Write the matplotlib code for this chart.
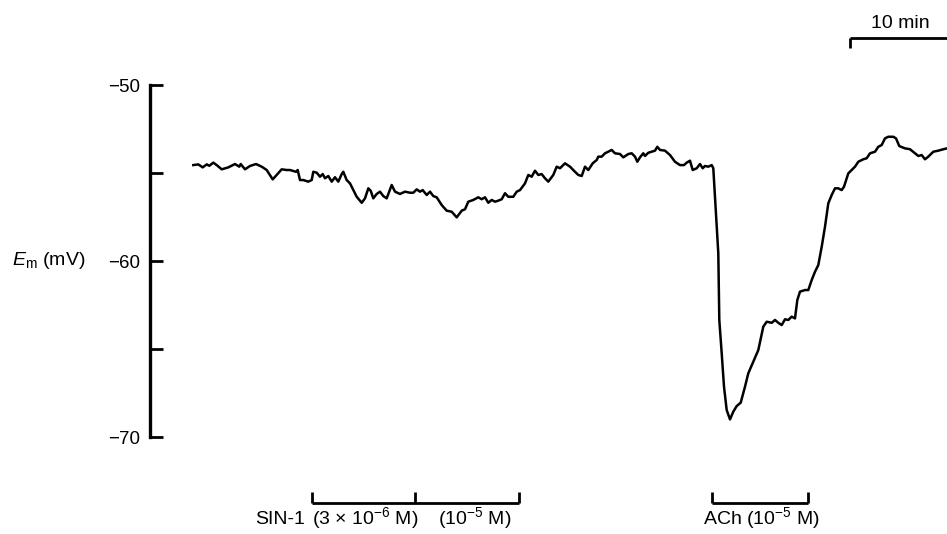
import matplotlib
matplotlib.use("Agg")
import matplotlib.pyplot as plt

plt.rcParams['font.family'] = ['Liberation Sans', 'DejaVu Sans']
plt.rcParams['mathtext.fontset'] = 'custom'
plt.rcParams['mathtext.rm'] = 'Liberation Sans'
plt.rcParams['mathtext.it'] = 'Liberation Sans:italic'

# time (min) and membrane potential (mV)
time_min = [4.33, 4.83, 5.27, 5.67, 5.93, 6.33, 6.67, 7.17, 7.83, 8.5, 8.93, 9.07, 9.5, 10.0,
            10.6, 11.17, 11.67, 12.27, 12.67, 13.17, 13.67, 14.0, 14.6, 14.77, 15.0, 15.33,
            15.83, 16.17, 16.33, 16.67, 17.0, 17.27, 17.5, 17.83, 18.17, 18.5, 18.83, 19.17,
            19.33, 19.67, 20.0, 20.33, 20.67, 21.17, 21.5, 21.83, 22.07, 22.33, 22.67, 23.0,
            23.33, 23.67, 24.17, 24.5, 25.0, 25.5, 26.0, 26.33, 26.67, 27.0, 27.27, 27.67,
            28.0, 28.33, 28.67, 29.17, 29.67, 30.17, 30.67, 31.17, 31.5, 31.83, 32.33, 32.83,
            33.17, 33.5, 33.83, 34.17, 34.5, 34.83, 35.17, 35.5, 35.83, 36.33, 36.67, 37.0,
            37.5, 37.83, 38.17, 38.5, 38.83, 39.17, 39.5, 39.83, 40.33, 40.67, 41.0, 41.5,
            42.0, 42.5, 42.83, 43.17, 43.5, 43.83, 44.27, 44.67, 44.83, 45.17, 45.5, 46.17,
            46.5, 47.0, 47.33, 47.83, 48.17, 48.5, 48.73, 49.0, 49.33, 49.5, 49.83, 50.17,
            50.5, 50.73, 51.0, 51.5, 52.0, 52.5, 53.0, 53.4, 53.67, 54.0, 54.27, 54.67, 55.0,
            55.27, 55.5, 55.83, 56.17, 56.33, 56.6, 56.83, 56.93, 57.17, 57.4, 57.67, 58.0,
            58.33, 58.67, 59.07, 59.5, 59.83, 60.33, 60.83, 61.33, 61.67, 62.17, 62.5, 62.83,
            63.17, 63.5, 63.83, 64.17, 64.5, 64.73, 65.0, 65.5, 65.83, 66.17, 66.5, 66.83,
            67.17, 67.5, 67.83, 68.17, 68.5, 68.83, 69.17, 69.4, 69.83, 70.17, 70.5, 70.83,
            71.33, 71.67, 72.0, 72.5, 72.83, 73.17, 73.5, 73.83, 74.33, 74.6, 74.93, 75.5,
            76.0, 76.5, 76.83, 77.17, 77.5, 77.83, 78.33, 78.83, 79.33, 79.7]
em_mv = [-54.55, -54.51, -54.68, -54.51, -54.59, -54.41, -54.55, -54.79, -54.68, -54.49, -54.64,
         -54.49, -54.79, -54.60, -54.49, -54.64, -54.83, -55.36, -55.11, -54.79, -54.83, -54.83,
         -54.93, -54.83, -55.40, -55.40, -55.49, -55.40, -54.93, -54.98, -55.21, -55.06, -55.30,
         -55.17, -55.49, -55.24, -55.49, -55.06, -54.93, -55.40, -55.59, -55.97, -56.35, -56.69,
         -56.44, -55.87, -56.01, -56.44, -56.19, -56.06, -56.31, -56.44, -55.68, -56.06, -56.19,
         -56.06, -56.12, -56.12, -55.93, -56.06, -55.97, -56.25, -56.06, -56.31, -56.38, -56.82,
         -57.14, -57.20, -57.52, -57.14, -57.06, -56.63, -56.53, -56.38, -56.49, -56.38, -56.69,
         -56.53, -56.63, -56.57, -56.49, -56.15, -56.35, -56.35, -56.06, -55.97, -55.59, -55.11,
         -55.21, -54.87, -55.11, -55.06, -55.30, -55.49, -55.11, -54.64, -54.73, -54.45, -54.64,
         -54.93, -55.11, -55.17, -54.64, -54.83, -54.45, -54.26, -54.07, -54.07, -53.88, -53.69,
         -53.88, -53.92, -54.11, -53.92, -53.88, -54.07, -54.36, -54.11, -53.88, -54.03, -53.85,
         -53.79, -53.73, -53.51, -53.69, -53.73, -53.98, -54.36, -54.55, -54.55, -54.41, -54.30,
         -54.83, -54.73, -54.49, -54.73, -54.60, -54.64, -54.55, -54.73, -57.29, -59.56, -63.35,
         -65.24, -67.14, -68.47, -69.0, -68.56, -68.24, -68.05, -67.14, -66.38, -65.72, -65.06,
         -63.73, -63.45, -63.51, -63.35, -63.51, -63.64, -63.31, -63.35, -63.16, -63.26, -62.22,
         -61.74, -61.65, -61.65, -61.08, -60.61, -60.23, -59.19, -58.05, -56.72, -56.25, -55.87,
         -55.87, -55.97, -55.78, -55.02, -54.83, -54.64, -54.36, -54.22, -54.16, -53.88, -53.79,
         -53.51, -53.41, -53.03, -52.94, -52.94, -53.03, -53.47, -53.60, -53.65, -53.88, -54.03,
         -53.98, -54.22, -54.07, -53.79, -53.73, -53.65, -53.60]

yticks = [-50, -55, -60, -65, -70]
ytick_labels = ['\u221250', '', '\u221260', '', '\u221270']

# drug applications (min)
sin1_times = [16.2, 26.5, 36.9]
ach_times = [56.2, 65.8]
scale_start, scale_len = 70.0, 10.0

fig = plt.figure(figsize=(9.47, 5.34), dpi=100)
ax = fig.add_axes([150 / 947, 0, 797 / 947, 1])
ax.set_xlim(0, 79.7)
ax.set_ylim(-75.51, -45.17)

ax.plot(time_min, em_mv, color='black', lw=1.8, solid_joinstyle='round')

for s in ['top', 'right', 'bottom']:
    ax.spines[s].set_visible(False)
ax.spines['left'].set_bounds(-70, -50)
ax.spines['left'].set_linewidth(2.4)
ax.set_xticks([])
ax.set_yticks(yticks)
ax.set_yticklabels(ytick_labels)
ax.tick_params(axis='y', direction='in', length=9, width=2.0, pad=7, labelsize=13.5)

fig.text(12 / 947, 1 - 260 / 534, r'$E_\mathrm{m}$ (mV)', fontsize=14, ha='left', va='center')

# drug bars
bar_y, tick_top = -73.75, -73.1
kw = dict(color='black', lw=2.0, solid_capstyle='butt', clip_on=False)
ax.plot([sin1_times[0], sin1_times[-1]], [bar_y, bar_y], **kw)
for t in sin1_times:
    ax.plot([t, t], [bar_y, tick_top], **kw)
ax.plot([ach_times[0], ach_times[-1]], [bar_y, bar_y], **kw)
for t in ach_times:
    ax.plot([t, t], [bar_y, tick_top], **kw)

lab_y = -74.95
fs = 14
ax.text(sin1_times[0] - 0.7, lab_y, 'SIN-1', fontsize=fs, ha='right', va='baseline')
ax.text(sin1_times[0] + 0.05, lab_y, r'(3 × 10$^{\mathregular{-6}}$ M)', fontsize=fs, ha='left', va='baseline')
ax.text((sin1_times[1] + sin1_times[2]) / 2 + 0.8, lab_y, r'(10$^{\mathregular{-5}}$ M)', fontsize=fs,
        ha='center', va='baseline')
ax.text((ach_times[0] + ach_times[1]) / 2 + 0.1, lab_y, r'ACh (10$^{\mathregular{-5}}$ M)', fontsize=fs,
        ha='center', va='baseline')

# time scale bar
sb_y = -47.33
ax.plot([scale_start, scale_start + scale_len], [sb_y, sb_y], **kw)
ax.plot([scale_start, scale_start], [sb_y, -47.9], **kw)
ax.text(scale_start + 5.0, -46.76, '10 min', fontsize=fs, ha='center', va='baseline')

fig.savefig('out.png', dpi=100)
